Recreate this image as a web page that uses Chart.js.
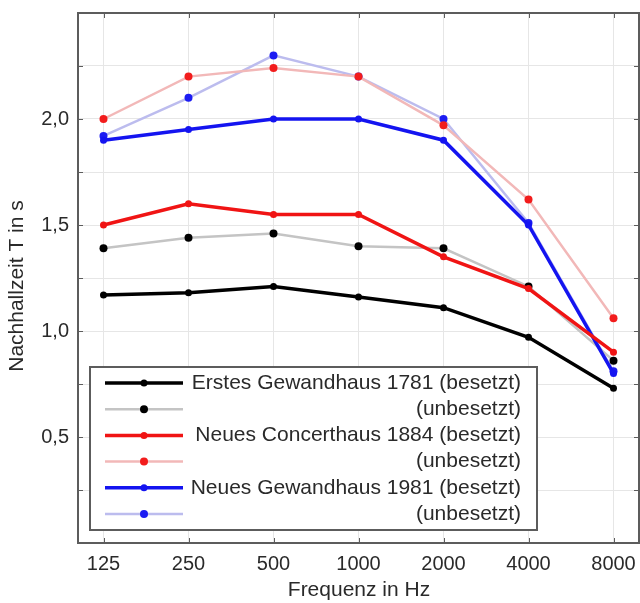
<!DOCTYPE html>
<html>
<head>
<meta charset="utf-8">
<script src="https://cdn.jsdelivr.net/npm/chart.js@4"></script>
<style>
html, body { margin: 0; padding: 0; background: #fff; overflow: hidden; }
#wrap { width: 643px; height: 603px; }
</style>
</head>
<body>
<div id="wrap"><canvas id="nachhall"></canvas></div>
<script>
const frequenzen = ['125', '250', '500', '1000', '2000', '4000', '8000'];
const yBeschriftung = [0.5, 1.0, 1.5, 2.0];

const erstesBesetzt = [1.17, 1.18, 1.21, 1.16, 1.11, 0.97, 0.73];
const erstesUnbesetzt = [1.39, 1.44, 1.46, 1.40, 1.39, 1.21, 0.86];
const concertBesetzt = [1.50, 1.60, 1.55, 1.55, 1.35, 1.20, 0.90];
const concertUnbesetzt = [2.00, 2.20, 2.24, 2.20, 1.97, 1.62, 1.06];
const neuesBesetzt = [1.90, 1.95, 2.00, 2.00, 1.90, 1.50, 0.80];
const neuesUnbesetzt = [1.92, 2.10, 2.30, 2.20, 2.00, 1.51, 0.81];

const legendTexte = [
    'Erstes Gewandhaus 1781 (besetzt)',
    '(unbesetzt)',
    'Neues Concerthaus 1884 (besetzt)',
    '(unbesetzt)',
    'Neues Gewandhaus 1981 (besetzt)',
    '(unbesetzt)'
];

const schrift = '"Liberation Sans", Arial, sans-serif';
const textFarbe = '#2a2a2a';
const rahmenFarbe = '#5c5c5c';

function punkte(werte) {
    return werte.map((v, i) => ({ x: i, y: v }));
}

function serie(werte, linie, punkt, breite, radius, order) {
    return {
        data: punkte(werte),
        borderColor: linie,
        borderWidth: breite,
        pointBackgroundColor: punkt,
        pointBorderColor: punkt,
        pointRadius: radius,
        pointBorderWidth: 0,
        order: order
    };
}

const datasets = [
    serie(erstesBesetzt, '#000000', '#000000', 3.5, 3.5, 1),
    serie(erstesUnbesetzt, '#c4c4c4', '#000000', 2.5, 4, 2),
    serie(concertBesetzt, '#f01414', '#f01414', 3.5, 3.5, 1),
    serie(concertUnbesetzt, '#f2b8b8', '#f21c1c', 2.5, 4, 2),
    serie(neuesBesetzt, '#1414f0', '#1414f0', 3.5, 3.5, 1),
    serie(neuesUnbesetzt, '#bcbcee', '#1c1cf2', 2.5, 4, 2)
];

// Rahmen mit nach innen zeigenden Ticks
const rahmen = {
    id: 'rahmen',
    beforeDatasetsDraw(chart) {
        const ctx = chart.ctx;
        const { left, right, top, bottom } = chart.chartArea;
        const xs = chart.scales.x, ys = chart.scales.y;
        ctx.save();
        ctx.strokeStyle = rahmenFarbe;
        ctx.lineWidth = 2;
        ctx.strokeRect(left, top, right - left, bottom - top);
        ctx.lineWidth = 1;
        ctx.beginPath();
        xs.ticks.forEach(t => {
            const px = Math.round(xs.getPixelForValue(t.value)) + 0.5;
            ctx.moveTo(px, bottom); ctx.lineTo(px, bottom - 5);
            ctx.moveTo(px, top); ctx.lineTo(px, top + 5);
        });
        ys.ticks.forEach(t => {
            const py = Math.round(ys.getPixelForValue(t.value)) + 0.5;
            ctx.moveTo(left, py); ctx.lineTo(left + 5, py);
            ctx.moveTo(right, py); ctx.lineTo(right - 5, py);
        });
        ctx.stroke();
        ctx.restore();
    }
};

// Legende und Achsentitel
const legende = {
    id: 'legende',
    afterDraw(chart) {
        const ctx = chart.ctx;
        ctx.save();
        ctx.fillStyle = '#fff';
        ctx.fillRect(90, 367, 447, 163);
        ctx.strokeStyle = rahmenFarbe;
        ctx.lineWidth = 2;
        ctx.strokeRect(90, 367, 447, 163);

        chart.data.datasets.forEach((ds, i) => {
            const y = 383 + i * 26.2;
            ctx.strokeStyle = ds.borderColor;
            ctx.lineWidth = ds.borderWidth;
            ctx.beginPath();
            ctx.moveTo(105, y);
            ctx.lineTo(183, y);
            ctx.stroke();
            ctx.fillStyle = ds.pointBackgroundColor;
            ctx.beginPath();
            ctx.arc(144, y, ds.pointRadius, 0, Math.PI * 2);
            ctx.fill();
            ctx.fillStyle = textFarbe;
            ctx.font = '21px ' + schrift;
            ctx.textAlign = 'right';
            ctx.textBaseline = 'middle';
            ctx.fillText(legendTexte[i], 521, y);
        });

        ctx.fillStyle = textFarbe;
        ctx.font = '21px ' + schrift;
        ctx.textAlign = 'center';
        ctx.textBaseline = 'middle';
        ctx.fillText('Frequenz in Hz', 359, 590);
        ctx.translate(17, 286);
        ctx.rotate(-Math.PI / 2);
        ctx.fillText('Nachhallzeit T in s', 0, 0);
        ctx.restore();
    }
};

new Chart(document.getElementById('nachhall'), {
    type: 'line',
    data: { datasets: datasets },
    options: {
        responsive: true,
        maintainAspectRatio: false,
        animation: false,
        layout: { padding: { top: 13, right: 1, left: 0, bottom: 0 } },
        plugins: {
            legend: { display: false },
            tooltip: { enabled: false }
        },
        scales: {
            x: {
                type: 'linear',
                min: -0.3,
                max: 6.3,
                afterFit(s) {
                    s.height = 60;
                    s.paddingLeft = 0;
                    s.paddingRight = 0;
                },
                border: { display: false },
                grid: { color: '#e6e6e6', drawTicks: false },
                ticks: {
                    stepSize: 1,
                    includeBounds: false,
                    autoSkip: false,
                    maxRotation: 0,
                    padding: 9,
                    color: textFarbe,
                    font: { size: 20, family: schrift },
                    callback: v => frequenzen[v] ?? ''
                }
            },
            y: {
                min: 0,
                max: 2.5,
                afterFit(s) {
                    s.width = 78;
                    s.paddingTop = 0;
                    s.paddingBottom = 0;
                },
                border: { display: false },
                grid: { color: '#e6e6e6', drawTicks: false },
                ticks: {
                    stepSize: 0.25,
                    padding: 9,
                    color: textFarbe,
                    font: { size: 20, family: schrift },
                    callback: v => yBeschriftung.some(l => Math.abs(l - v) < 1e-6) ? v.toFixed(1).replace('.', ',') : ''
                }
            }
        }
    },
    plugins: [rahmen, legende]
});
</script>
</body>
</html>
